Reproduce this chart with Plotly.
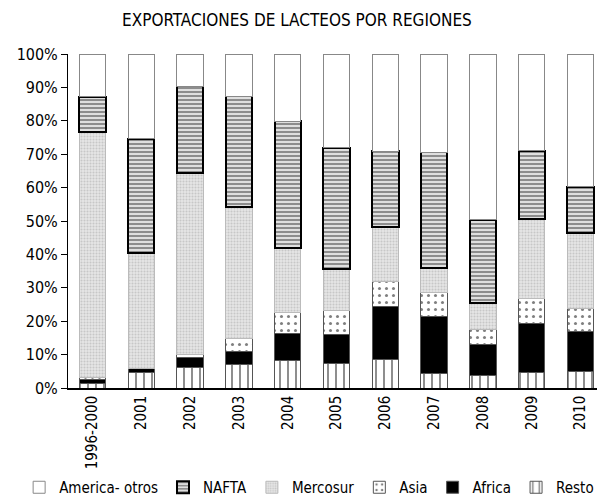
import plotly.graph_objects as go

# Participación (%) de cada región en las exportaciones de lácteos
anios = ["1996-2000", "2001", "2002", "2003", "2004", "2005",
         "2006", "2007", "2008", "2009", "2010"]

resto = [1.3, 4.5, 6.0, 7.0, 8.1, 7.3, 8.5, 4.3, 3.6, 4.6, 4.8]
africa = [1.1, 1.2, 3.0, 3.9, 8.2, 8.7, 15.8, 17.1, 9.3, 14.8, 12.0]
asia = [0.8, 0.0, 1.1, 4.0, 6.4, 7.3, 7.6, 7.3, 4.5, 7.3, 7.1]
mercosur = [73.4, 34.8, 54.2, 39.4, 19.2, 12.4, 16.3, 7.1, 8.1, 23.8, 22.5]
nafta = [10.6, 34.1, 26.0, 33.0, 38.0, 36.2, 22.7, 34.8, 24.9, 20.6, 13.9]
america_otros = [12.8, 25.4, 9.7, 12.7, 20.1, 28.1, 29.1, 29.4, 49.6, 28.9, 39.7]

FUENTE = "Liberation Sans Narrow, Arial Narrow, DejaVu Sans Condensed, sans-serif"

fig = go.Figure()

fig.add_trace(go.Bar(
    x=anios, y=resto, name="Resto",
    marker=dict(color="white", line=dict(color="#555555", width=1),
                pattern=dict(shape="|", fgcolor="black", bgcolor="white",
                             size=8, solidity=0.22)),
))
fig.add_trace(go.Bar(
    x=anios, y=africa, name="Africa",
    marker=dict(color="black", line=dict(color="#555555", width=1)),
))
fig.add_trace(go.Bar(
    x=anios, y=asia, name="Asia",
    marker=dict(color="white", line=dict(color="#555555", width=1),
                pattern=dict(shape=".", fgcolor="black", bgcolor="white",
                             size=7, solidity=0.15)),
))
fig.add_trace(go.Bar(
    x=anios, y=mercosur, name="Mercosur",
    marker=dict(color="#d9d9d9", line=dict(color="#bbbbbb", width=1),
                pattern=dict(shape=".", fgcolor="#a8a8a8", bgcolor="#e6e6e6",
                             size=3, solidity=0.4)),
))
fig.add_trace(go.Bar(
    x=anios, y=nafta, name="NAFTA",
    marker=dict(color="#222222", line=dict(color="black", width=2),
                pattern=dict(shape="-", fgcolor="#262626", bgcolor="#f4f4f4",
                             size=4, solidity=0.6)),
))
fig.add_trace(go.Bar(
    x=anios, y=america_otros, name="America- otros",
    marker=dict(color="white", line=dict(color="#888888", width=1)),
))

# la página añade 8 px de margen al cuerpo, de ahí 597x496
fig.update_layout(
    barmode="stack",
    bargap=0.46,
    width=597, height=496,
    margin=dict(l=60, r=0, t=46, b=115),
    paper_bgcolor="white", plot_bgcolor="white",
    font=dict(family=FUENTE, size=15, color="black"),
    title=dict(text="EXPORTACIONES DE LACTEOS POR REGIONES",
               x=0.484, xanchor="center", y=0.976, yanchor="middle",
               font=dict(size=17)),
    legend=dict(orientation="h", traceorder="reversed",
                x=-0.091, xanchor="left", y=-0.249, yanchor="top",
                font=dict(size=15), itemwidth=30, tracegroupgap=0),
    xaxis=dict(tickangle=-90, showline=True, linecolor="black", linewidth=1.5,
               ticks="", tickfont=dict(size=15)),
    yaxis=dict(range=[0, 100], dtick=10, ticksuffix="%", showgrid=False,
               showline=True, linecolor="black", linewidth=1,
               ticks="outside", ticklen=6, tickcolor="black",
               tickfont=dict(size=16), zeroline=False),
)

fig.write_html("out.html")
